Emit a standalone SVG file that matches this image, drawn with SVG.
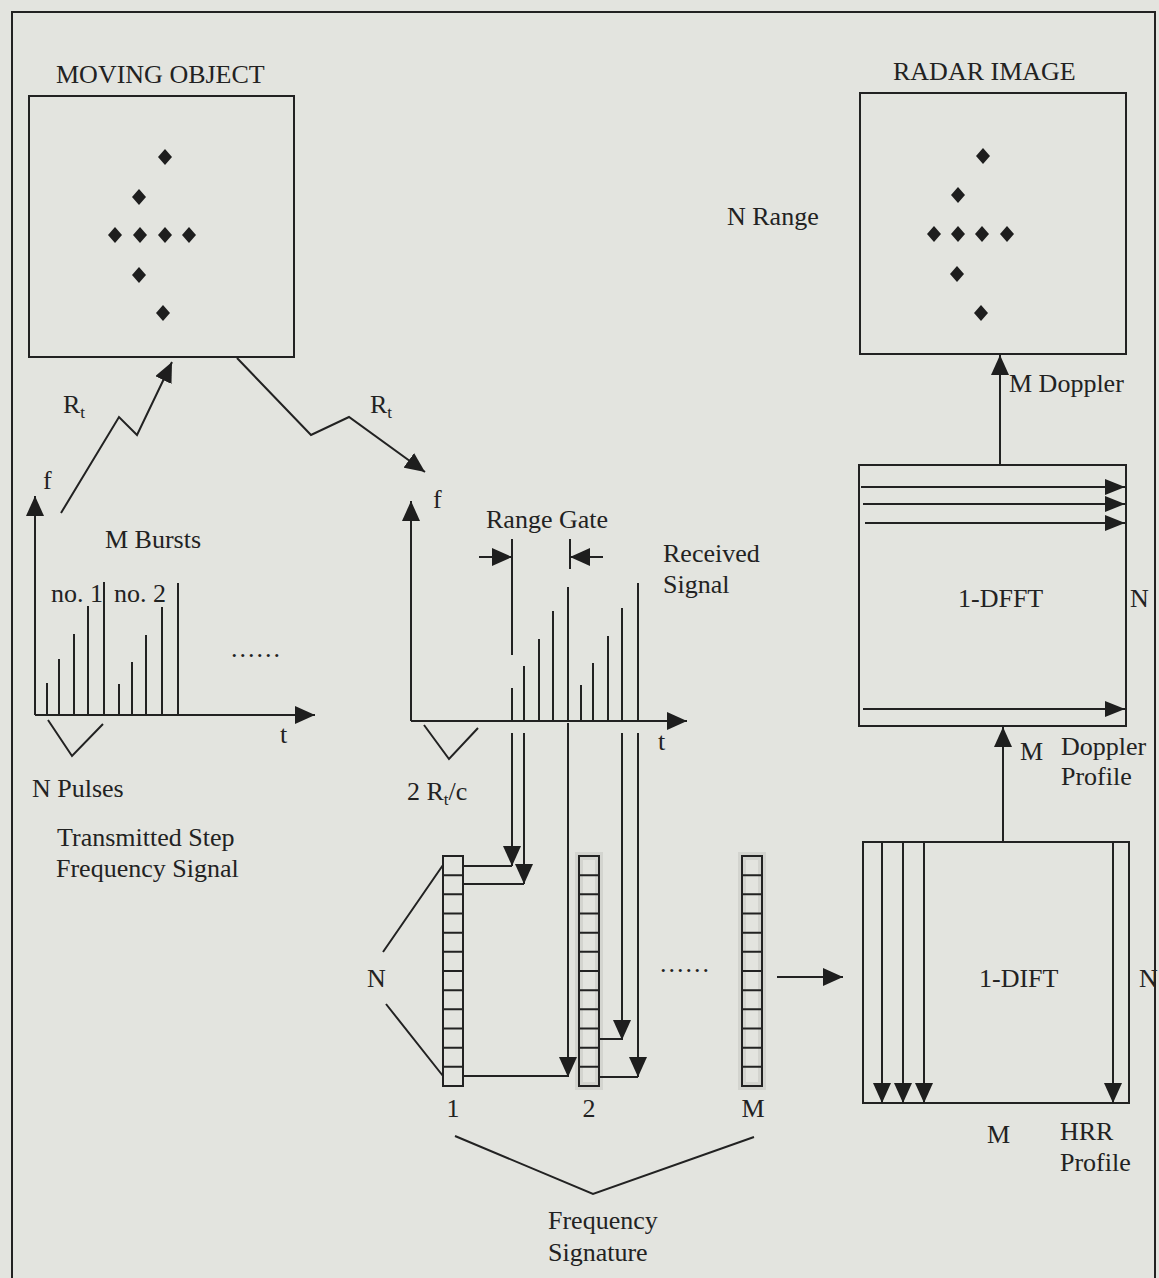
<svg xmlns="http://www.w3.org/2000/svg" width="1159" height="1278" viewBox="0 0 1159 1278">
<defs>
<style>
text{font-family:"Liberation Serif","Times New Roman",serif;font-size:26px;fill:#222}
.ln{stroke:#222;stroke-width:2;fill:none}
.box{stroke:#222;stroke-width:2;fill:none}
.dm{fill:#1e1e1e}
.halo{stroke:#c4c4bf;stroke-width:8;fill:none;opacity:0.5}
.sub{font-size:17px}
</style>
<marker id="ah" viewBox="0 0 20 18" refX="20" refY="9" markerWidth="20" markerHeight="18" orient="auto" markerUnits="userSpaceOnUse">
<path d="M0,0 L20,9 L0,18 z" fill="#1e1e1e"/>
</marker>
<marker id="ahs" viewBox="0 0 20 16" refX="20" refY="8" markerWidth="20" markerHeight="16" orient="auto" markerUnits="userSpaceOnUse">
<path d="M0,0 L20,8 L0,16 z" fill="#1e1e1e"/>
</marker>
<path id="dia" d="M0,-8 L7,0 L0,8 L-7,0 z"/>
</defs>
<rect x="0" y="0" width="1159" height="1278" fill="#e3e4df"/>
<rect x="12" y="12" width="1143" height="1300" class="box"/>

<g id="moving-object">
<text x="56" y="83">MOVING OBJECT</text>
<rect x="29" y="96" width="265" height="261" class="box"/>
<g class="dm">
<use href="#dia" x="165" y="157"/>
<use href="#dia" x="139" y="197"/>
<use href="#dia" x="115" y="235"/>
<use href="#dia" x="140" y="235"/>
<use href="#dia" x="165" y="235"/>
<use href="#dia" x="189" y="235"/>
<use href="#dia" x="139" y="275"/>
<use href="#dia" x="163" y="313"/>
</g>
</g>

<g id="radar-image">
<text x="893" y="80">RADAR IMAGE</text>
<rect x="860" y="93" width="266" height="261" class="box"/>
<g class="dm">
<use href="#dia" x="983" y="156"/>
<use href="#dia" x="958" y="195"/>
<use href="#dia" x="934" y="234"/>
<use href="#dia" x="958" y="234"/>
<use href="#dia" x="982" y="234"/>
<use href="#dia" x="1007" y="234"/>
<use href="#dia" x="957" y="274"/>
<use href="#dia" x="981" y="313"/>
</g>
<text x="727" y="225">N Range</text>
</g>

<g id="transmitted-signal">
<line x1="35" y1="715" x2="35" y2="496" class="ln" marker-end="url(#ah)"/>
<line x1="35" y1="715" x2="315" y2="715" class="ln" marker-end="url(#ah)"/>
<text x="43" y="489">f</text>
<text x="280" y="743">t</text>
<text x="105" y="548">M Bursts</text>
<text x="51" y="602">no. 1</text>
<text x="114" y="602">no. 2</text>
<path class="ln" d="M47,715V683 M59,715V659 M74,715V634 M88,715V606 M104,715V582 M119,715V684 M132,715V662 M146,715V635 M162,715V607 M178,715V583"/>
<text x="231" y="657" style="letter-spacing:2px">......</text>
<path class="ln" d="M48,720 L72,756 L103,724"/>
<text x="32" y="797">N Pulses</text>
<text x="57" y="846">Transmitted Step</text>
<text x="56" y="877">Frequency Signal</text>
</g>

<g id="received-signal">
<line x1="411" y1="721" x2="411" y2="501" class="ln" marker-end="url(#ah)"/>
<line x1="411" y1="721" x2="687" y2="721" class="ln" marker-end="url(#ah)"/>
<text x="433" y="508">f</text>
<text x="658" y="750">t</text>
<text x="486" y="528">Range Gate</text>
<path class="ln" d="M512,539V655 M570,539V569"/>
<line x1="479" y1="557" x2="512" y2="557" class="ln" marker-end="url(#ah)"/>
<line x1="603" y1="557" x2="570" y2="557" class="ln" marker-end="url(#ah)"/>
<text x="663" y="562">Received</text>
<text x="663" y="593">Signal</text>
<path class="ln" d="M512,721V688 M524,721V666 M539,721V639 M553,721V611 M568,721V587 M581,721V685 M593,721V663 M608,721V636 M622,721V608 M638,721V583"/>
<path class="ln" d="M424,725 L449,759 L478,728"/>
<text x="407" y="800">2 R<tspan class="sub" dy="5">t</tspan><tspan dy="-5">/c</tspan></text>
</g>

<g id="frequency-signature">
<rect x="579" y="856" width="20" height="230" class="halo"/>
<rect x="742" y="856" width="20" height="230" class="halo"/>
<rect x="443" y="856" width="20" height="230" class="box" fill="#e3e4df"/>
<path class="ln" d="M443,875.2h20 M443,894.3h20 M443,913.5h20 M443,932.7h20 M443,951.8h20 M443,971h20 M443,990.2h20 M443,1009.3h20 M443,1028.5h20 M443,1047.7h20 M443,1066.8h20"/>
<rect x="579" y="856" width="20" height="230" class="box"/>
<path class="ln" d="M579,875.2h20 M579,894.3h20 M579,913.5h20 M579,932.7h20 M579,951.8h20 M579,971h20 M579,990.2h20 M579,1009.3h20 M579,1028.5h20 M579,1047.7h20 M579,1066.8h20"/>
<rect x="742" y="856" width="20" height="230" class="box"/>
<path class="ln" d="M742,875.2h20 M742,894.3h20 M742,913.5h20 M742,932.7h20 M742,951.8h20 M742,971h20 M742,990.2h20 M742,1009.3h20 M742,1028.5h20 M742,1047.7h20 M742,1066.8h20"/>
<text x="367" y="987">N</text>
<path class="ln" d="M383,952 L443,865 M386,1004 L443,1076"/>
<text x="453" y="1117" text-anchor="middle">1</text>
<text x="589" y="1117" text-anchor="middle">2</text>
<text x="753" y="1117" text-anchor="middle">M</text>
<text x="660" y="972" style="letter-spacing:2px">......</text>
<path class="ln" d="M455,1136 L593,1194 L754,1137"/>
<text x="548" y="1229">Frequency</text>
<text x="548" y="1261">Signature</text>
</g>

<g id="dfft">
<rect x="859" y="465" width="267" height="261" class="box"/>
<text x="958" y="607">1-DFFT</text>
<text x="1130" y="607">N</text>
</g>

<g id="dift">
<rect x="863" y="842" width="266" height="261" class="box"/>
<text x="979" y="987">1-DIFT</text>
<text x="1139" y="987">N</text>
<text x="987" y="1143">M</text>
<text x="1060" y="1140">HRR</text>
<text x="1060" y="1171">Profile</text>
</g>

<g id="connectors">
<path class="ln" d="M61,513 L119,417 L137,435 L172,362" marker-end="url(#ah)"/>
<text x="63" y="413">R<tspan class="sub" dy="5">t</tspan></text>
<path class="ln" d="M237,358 L311,435 L349,417 L425,472" marker-end="url(#ah)"/>
<text x="370" y="413">R<tspan class="sub" dy="5">t</tspan></text>

<line x1="512" y1="733" x2="512" y2="866" class="ln" marker-end="url(#ah)"/>
<line x1="524" y1="733" x2="524" y2="884" class="ln" marker-end="url(#ah)"/>
<line x1="568" y1="723" x2="568" y2="1077" class="ln" marker-end="url(#ah)"/>
<line x1="622" y1="733" x2="622" y2="1040" class="ln" marker-end="url(#ah)"/>
<line x1="638" y1="733" x2="638" y2="1077" class="ln" marker-end="url(#ah)"/>
<path class="ln" d="M463,866H512 M463,884H524 M463,1076H568 M599,1039H622 M599,1077H638"/>

<line x1="777" y1="977" x2="843" y2="977" class="ln" marker-end="url(#ah)"/>

<line x1="882" y1="842" x2="882" y2="1103" class="ln" marker-end="url(#ah)"/>
<line x1="903" y1="842" x2="903" y2="1103" class="ln" marker-end="url(#ah)"/>
<line x1="924" y1="842" x2="924" y2="1103" class="ln" marker-end="url(#ah)"/>
<line x1="1113" y1="842" x2="1113" y2="1103" class="ln" marker-end="url(#ah)"/>

<line x1="1003" y1="842" x2="1003" y2="727" class="ln" marker-end="url(#ah)"/>
<text x="1020" y="760">M</text>
<text x="1061" y="755">Doppler</text>
<text x="1061" y="785">Profile</text>

<line x1="861" y1="487" x2="1125" y2="487" class="ln" marker-end="url(#ahs)"/>
<line x1="863" y1="504" x2="1125" y2="504" class="ln" marker-end="url(#ahs)"/>
<line x1="865" y1="523" x2="1125" y2="523" class="ln" marker-end="url(#ahs)"/>
<line x1="863" y1="709" x2="1125" y2="709" class="ln" marker-end="url(#ahs)"/>

<line x1="1000" y1="465" x2="1000" y2="355" class="ln" marker-end="url(#ah)"/>
<text x="1009" y="392">M Doppler</text>
</g>
</svg>
